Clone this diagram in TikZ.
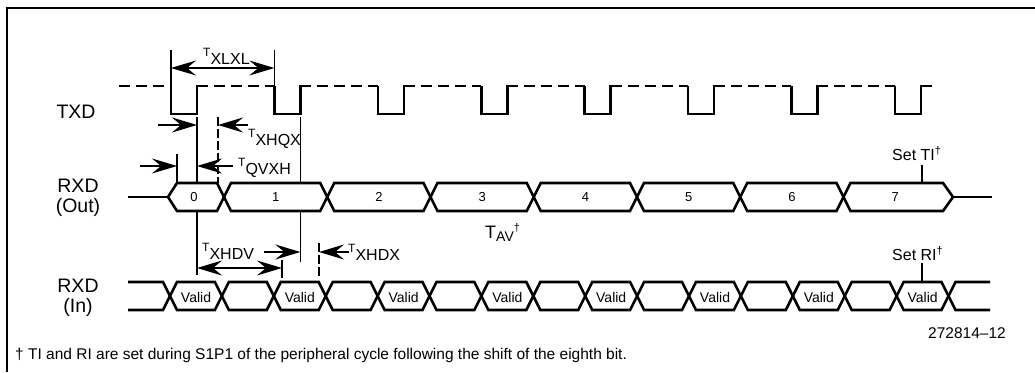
\documentclass[tikz,border=0pt]{standalone}
\usepackage{fontspec}
\setmainfont{Liberation Sans}
\usetikzlibrary{arrows.meta,positioning}
\tikzstyle{signal} = [line width=2.6pt]
\tikzstyle{holddash} = [line width=2.6pt, dash pattern=on 11pt off 6pt]
\tikzstyle{dimline} = [line width=1.2pt]
\tikzstyle{dimdash} = [line width=1.2pt, dash pattern=on 9pt off 3pt]
\tikzstyle{dimarrow} = [line width=1.2pt, -{Stealth[length=25pt,width=15pt,inset=9pt]}]
\tikzstyle{bothways} = [line width=1.2pt, {Stealth[length=25pt,width=15pt,inset=9pt]}-{Stealth[length=25pt,width=15pt,inset=9pt]}]
\tikzstyle{pinname} = [inner sep=0pt, align=center, font=\fontsize{19.5}{20}\selectfont]
\tikzstyle{bitnum} = [inner sep=0pt, font=\fontsize{13}{13}\selectfont]
\tikzstyle{validtext} = [inner sep=0pt, font=\fontsize{14}{14}\selectfont]
\tikzstyle{timing} = [inner sep=0pt, anchor=base west]
\newcommand{\tsym}[1]{{\fontsize{12}{12}\selectfont T}\raisebox{-8pt}{\fontsize{16}{16}\selectfont #1}}

\begin{document}
\begin{tikzpicture}[x=1pt,y=-1pt]
\useasboundingbox (0,0) rectangle (1035,372);
% Frame
\draw[line width=1.3pt] (7,372) -- (7,8) -- (1035,8);

% Pin names
\node[pinname] (txd) at (76,112) {TXD};
\node[pinname] (rxdout) at (78,198) {RXD\\(Out)};
\node[pinname] (rxdin) at (78,298) {RXD\\(In)};

% TXD
\draw[holddash] (119,86) -- (171,86);
\foreach \k in {0,...,7} {
  \pgfmathsetmacro{\f}{171+103.4*\k}
  \draw[signal] (\f,86) -- (\f,114) -- (\f+26,114) -- (\f+26,86) -- (\f+37,86);
}
\foreach \k in {0,...,6} {
  \pgfmathsetmacro{\f}{171+103.4*\k}
  \draw[holddash, dash phase=11pt] (\f+37,86) -- (\f+103.4,86);
}

% RXD (Out)
\draw[signal] (128,197) -- (168,197);
\draw[signal] (168,197) -- (177,183) -- (217,183) -- (224,197) -- (217,211) -- (177,211) -- cycle;
\foreach \k in {1,...,6} {
  \pgfmathsetmacro{\a}{224+103.25*(\k-1)}
  \pgfmathsetmacro{\b}{\a+103.25}
  \draw[signal] (\a,197) -- (\a+7,183) -- (\b-7,183) -- (\b,197) -- (\b-7,211) -- (\a+7,211) -- cycle;
}
\draw[signal] (843.5,197) -- (850.5,183) -- (943,183) -- (953,197) -- (943,211) -- (850.5,211) -- cycle;
\draw[signal] (953,197) -- (992,197);
\node[bitnum] (bit0) at (194,197) {0};
\foreach \k in {1,...,7} {
  \node[bitnum] (bit\k) at (224+103.25*\k-51.6,197) {\k};
}

% RXD (In)
\draw[signal] (128,282) -- (163,282) -- (170,296) -- (163,310) -- (128,310);
\foreach \j in {0,...,14} {
  \pgfmathsetmacro{\a}{170+51.9*\j}
  \pgfmathsetmacro{\b}{\a+51.9}
  \draw[signal] (\a,296) -- (\a+7,282) -- (\b-7,282) -- (\b,296) -- (\b-7,310) -- (\a+7,310) -- cycle;
}
\draw[signal] (990,282) -- (955.5,282) -- (948.5,296) -- (955.5,310) -- (990,310);
\foreach \j in {0,...,7} {
  \node[validtext] (valid\j) at (196+103.8*\j,297) {Valid};
}

% Reference lines
\draw[dimline] (171,50) -- (171,86);
\draw[dimline] (274.4,50) -- (274.4,86);
\draw[dimline] (177,154) -- (177,183);
\draw[dimline] (197,117) -- (197,183);
\draw[dimline] (197,211) -- (197,275);
\draw[dimdash] (218,117) -- (218,183);
\draw[dimline] (300.4,117) -- (300.4,183);
\draw[dimline] (300.4,211) -- (300.4,262);
\draw[dimline] (282,260) -- (282,278);
\draw[dimdash] (319,243) -- (319,276);
\draw[dimline] (922,165) -- (922,183);
\draw[dimline] (922,263) -- (922,282);

% Arrows
\coordinate (xlxlA) at (171,68);
\coordinate (xlxlB) at (274.4,68);
\draw[bothways] (xlxlA) -- (xlxlB);
\coordinate (xhqxA) at (158,125);
\coordinate (xhqxB) at (197,125);
\coordinate (xhqxC) at (248,125);
\coordinate (xhqxD) at (218,125);
\draw[dimarrow] (xhqxA) -- (xhqxB);
\draw[dimarrow] (xhqxC) -- (xhqxD);
\coordinate (qvxhA) at (140,166);
\coordinate (qvxhB) at (177,166);
\coordinate (qvxhC) at (233,166);
\coordinate (qvxhD) at (197,166);
\draw[dimarrow] (qvxhA) -- (qvxhB);
\draw[dimarrow] (qvxhC) -- (qvxhD);
\coordinate (xhdvA) at (264,252);
\coordinate (xhdvB) at (300.4,252);
\coordinate (xhdvC) at (197,268);
\coordinate (xhdvD) at (282,268);
\draw[dimarrow] (xhdvA) -- (xhdvB);
\draw[bothways] (xhdvC) -- (xhdvD);
\coordinate (xhdxA) at (349,252);
\coordinate (xhdxB) at (319,252);
\draw[dimarrow] (xhdxA) -- (xhdxB);

% Labels
\node[timing] (txlxl) at (203,56) {\tsym{XLXL}};
\node[timing] (txhqx) at (248,137) {\tsym{XHQX}};
\node[timing] (tqvxh) at (238,166) {\tsym{QVXH}};
\node[timing] (txhdv) at (202,251) {\tsym{XHDV}};
\node[timing] (txhdx) at (348,252) {\tsym{XHDX}};
\node[timing] (tav) at (485,238) {{\fontsize{18}{18}\selectfont T}\raisebox{-3pt}{\fontsize{14}{14}\selectfont AV}\raisebox{7pt}{\fontsize{11}{11}\selectfont †}};
\node[timing, font=\fontsize{16}{16}\selectfont] (setti) at (892,160) {Set TI\raisebox{6pt}{\fontsize{11}{11}\selectfont †}};
\node[timing, font=\fontsize{16}{16}\selectfont] (setri) at (892,260) {Set RI\raisebox{6pt}{\fontsize{11}{11}\selectfont †}};
\node[timing, font=\fontsize{15.5}{15.5}\selectfont] (fignum) at (928,338) {272814--12};
\node[timing, font=\fontsize{15.5}{15.5}\selectfont] (note) at (15,359) {† TI and RI are set during S1P1 of the peripheral cycle following the shift of the eighth bit.};
\end{tikzpicture}
\end{document}
